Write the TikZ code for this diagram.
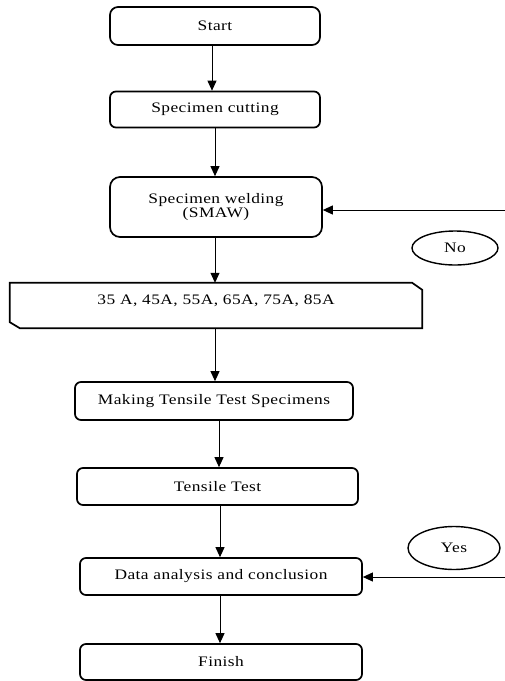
\documentclass[tikz,border=0pt]{standalone}
\usepackage{fontspec}
\setmainfont{Liberation Serif}[FakeStretch=1.2,LetterSpace=3]
\usetikzlibrary{shapes.geometric,arrows.meta}
\begin{document}
\begin{tikzpicture}[x=1pt,y=-1pt,
  every node/.style={font=\fontsize{14.5}{14.5}\selectfont},
  box/.style={draw,line width=1.7pt,rounded corners=6pt,minimum height=#1,inner sep=0pt},
  box/.default=37pt,
  oval/.style={draw,ellipse,line width=1.4pt,inner sep=0pt},
  arr/.style={line width=1pt,-{Triangle[width=9pt,length=10pt]}}]
\useasboundingbox (0,0) rectangle (505,681);
\node[box=38pt,rounded corners=8pt,minimum width=210pt] (start) at (215,26) {Start};
\node[box=36pt,minimum width=210pt] (cut) at (215,109.5) {Specimen cutting};
\node[box=60pt,rounded corners=10pt,minimum width=212pt,align=center] (weld) at (216,207) {Specimen welding\\(SMAW)};
\node[minimum width=412pt,minimum height=45pt,inner sep=0pt] (amp) at (216,305.5) {};
\node (amptext) at (216,301) {35 A, 45A, 55A, 65A, 75A, 85A};
\draw[line width=1.7pt] ([yshift=-7pt]amp.north east) -- ([xshift=-10pt]amp.north east) -- (amp.north west)
  -- ([yshift=6pt]amp.south west) -- ([xshift=10pt]amp.south west) -- (amp.south east) -- cycle;
\node[box=38pt,minimum width=278pt] (make) at (214,401) {Making Tensile Test Specimens};
\node[box=37pt,minimum width=281pt] (tens) at (217.5,486.5) {Tensile Test};
\node[box=37pt,minimum width=282pt] (data) at (221,576.5) {Data analysis and conclusion};
\node[box=36pt,minimum width=282pt] (fin) at (221,662) {Finish};
\node[oval,minimum width=86pt,minimum height=34pt] (no) at (455,248) {No};
\node[oval,minimum width=92pt,minimum height=43pt] (yes) at (454,548) {Yes};
\coordinate (noin) at (505,210);
\coordinate (yesin) at (505,577);
\draw[arr] ([xshift=-3pt]start.south) -- ([xshift=-3pt]start.south |- cut.north);
\draw[arr] (cut.south) -- (cut.south |- weld.north);
\draw[arr] ([xshift=-1pt]weld.south) -- ([xshift=-1pt]weld.south |- amp.north);
\draw[arr] ([xshift=-1pt]amp.south) -- ([xshift=-1pt]amp.south |- make.north);
\draw[arr] ([xshift=1.5pt]tens.north |- make.south) -- ([xshift=1.5pt]tens.north);
\draw[arr] ([xshift=-1pt]data.north |- tens.south) -- ([xshift=-1pt]data.north);
\draw[arr] ([xshift=-1pt]data.south) -- ([xshift=-1pt]fin.north);
\draw[arr] (noin) -- (noin -| weld.east);
\draw[arr] (yesin) -- (yesin -| data.east);
\end{tikzpicture}
\end{document}
